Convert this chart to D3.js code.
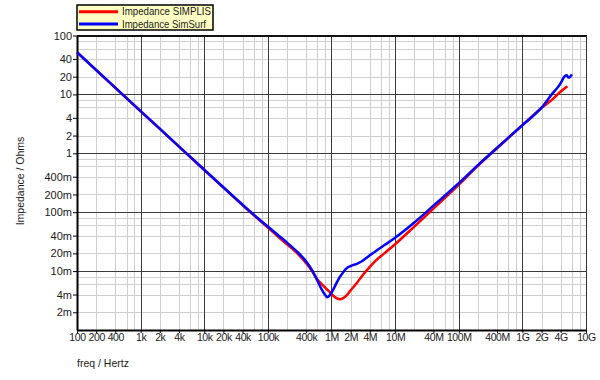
<!DOCTYPE html>
<html>
<head>
<meta charset="utf-8">
<script src="https://cdn.jsdelivr.net/npm/d3@7"></script>
<style>
  body { margin: 0; background: #fff; }
  svg text { font-family: "Liberation Sans", Arial, sans-serif; fill: #1a1a1a; }
</style>
</head>
<body>
<div id="chart"></div>
<script>
// series names
const seriesNames = ["Impedance SIMPLIS", "Impedance SimSurf"];

// SIMPLIS curve (Hz, Ohms)
const freqSimplis = [100, 200, 500, 1e3, 2e3, 5e3, 1e4, 2e4, 5e4, 1e5, 1.5e5, 2e5, 3e5, 4e5,
  5e5, 6e5, 7e5, 8e5, 9e5, 1e6, 1.1e6, 1.2e6, 1.3e6, 1.4e6, 1.5e6, 1.7e6, 2e6, 2.5e6, 3e6,
  4e6, 5e6, 7e6, 1e7, 2e7, 4e7, 1e8, 2e8, 4e8, 1e9, 2e9, 3e9, 4e9, 5.1e9];
const zSimplis = [51.6, 25.8, 10.3, 5.17, 2.6, 1.04, 0.52, 0.262, 0.106, 0.055, 0.037, 0.0285,
  0.0192, 0.0136, 0.0098, 0.0072, 0.006, 0.0052, 0.0046, 0.0041, 0.0037, 0.00347, 0.00335,
  0.00333, 0.00345, 0.0038, 0.0047, 0.0063, 0.0082, 0.0118, 0.0152, 0.0206, 0.0286, 0.057,
  0.115, 0.292, 0.61, 1.22, 3.0, 5.9, 8.3, 11.2, 13.8];

// SimSurf curve (Hz, Ohms)
const freqSimsurf = [100, 200, 500, 1e3, 2e3, 5e3, 1e4, 2e4, 5e4, 1e5, 1.5e5, 2e5, 3e5, 4e5,
  5e5, 6e5, 7e5, 8e5, 8.5e5, 9e5, 1e6, 1.1e6, 1.2e6, 1.3e6, 1.4e6, 1.5e6, 1.7e6, 2e6, 2.5e6,
  3e6, 4e6, 5e6, 7e6, 1e7, 2e7, 4e7, 1e8, 2e8, 4e8, 1e9, 2e9, 3e9, 3.5e9, 4e9, 4.4e9, 4.7e9,
  5e9, 5.3e9, 5.6e9, 6e9];
const zSimsurf = [52, 26, 10.4, 5.2, 2.62, 1.05, 0.525, 0.265, 0.108, 0.057, 0.0395, 0.0305,
  0.0205, 0.0146, 0.0102, 0.0069, 0.0049, 0.0039, 0.0036, 0.0037, 0.0043, 0.0052, 0.0063,
  0.0074, 0.0084, 0.0093, 0.011, 0.0122, 0.0133, 0.0147, 0.0185, 0.022, 0.0282, 0.0368,
  0.0667, 0.129, 0.31, 0.63, 1.24, 3.0, 5.95, 10.5, 12.7, 15.5, 18.8, 20.7, 21.1, 19.3,
  19.8, 21.9];

// axis ticks
const xTickValues = [100, 200, 400, 1e3, 2e3, 4e3, 1e4, 2e4, 4e4, 1e5, 4e5, 1e6, 2e6, 4e6,
  1e7, 4e7, 1e8, 4e8, 1e9, 2e9, 4e9, 1e10];
const xTickLabels = ["100", "200", "400", "1k", "2k", "4k", "10k", "20k", "40k", "100k",
  "400k", "1M", "2M", "4M", "10M", "40M", "100M", "400M", "1G", "2G", "4G", "10G"];
const yTickValues = [100, 40, 20, 10, 4, 2, 1, 0.4, 0.2, 0.1, 0.04, 0.02, 0.01, 0.004, 0.002];
const yTickLabels = ["100", "40", "20", "10", "4", "2", "1", "400m", "200m", "100m", "40m",
  "20m", "10m", "4m", "2m"];

const width = 600, height = 380;
const plot = { left: 77, right: 586, top: 35.5, bottom: 330 };

const svg = d3.select("#chart").append("svg")
  .attr("width", width)
  .attr("height", height);

const x = d3.scaleLog().domain([100, 1e10]).range([plot.left, plot.right]);
const y = d3.scaleLog().domain([1e-3, 100]).range([plot.bottom, plot.top]);

// grid: minor lines at 2,4,6,8 of each decade, major at decades
const xMinor = [], yMinor = [];
for (let e = 2; e < 10; e++) [2, 4, 6, 8].forEach(m => xMinor.push(m * Math.pow(10, e)));
for (let e = -3; e < 2; e++) [2, 4, 6, 8].forEach(m => yMinor.push(m * Math.pow(10, e)));
const xMajor = d3.range(3, 10).map(e => Math.pow(10, e));
const yMajor = d3.range(-2, 2).map(e => Math.pow(10, e));

const grid = svg.append("g").attr("shape-rendering", "crispEdges");
grid.selectAll("line.xminor").data(xMinor).join("line")
  .attr("x1", d => Math.round(x(d)) + 0.5).attr("x2", d => Math.round(x(d)) + 0.5)
  .attr("y1", plot.top).attr("y2", plot.bottom)
  .attr("stroke", "#cfcfcf");
grid.selectAll("line.yminor").data(yMinor).join("line")
  .attr("y1", d => Math.round(y(d)) + 0.5).attr("y2", d => Math.round(y(d)) + 0.5)
  .attr("x1", plot.left).attr("x2", plot.right)
  .attr("stroke", "#cfcfcf");
grid.selectAll("line.xmajor").data(xMajor).join("line")
  .attr("x1", d => Math.round(x(d)) + 0.5).attr("x2", d => Math.round(x(d)) + 0.5)
  .attr("y1", plot.top).attr("y2", plot.bottom)
  .attr("stroke", "#3c3c3c");
grid.selectAll("line.ymajor").data(yMajor).join("line")
  .attr("y1", d => Math.round(y(d)) + 0.5).attr("y2", d => Math.round(y(d)) + 0.5)
  .attr("x1", plot.left).attr("x2", plot.right)
  .attr("stroke", "#3c3c3c");

// frame top and right
grid.append("line")
  .attr("x1", plot.left).attr("x2", plot.right + 1)
  .attr("y1", plot.top).attr("y2", plot.top)
  .attr("stroke", "#111").attr("stroke-width", 2);
grid.append("line")
  .attr("x1", plot.right + 0.5).attr("x2", plot.right + 0.5)
  .attr("y1", plot.top).attr("y2", plot.bottom)
  .attr("stroke", "#333");

// axes
const xAxis = d3.axisBottom(x)
  .tickValues(xTickValues)
  .tickFormat((d, i) => xTickLabels[i])
  .tickSizeOuter(0).tickSizeInner(3).tickPadding(0);
const yAxis = d3.axisLeft(y)
  .tickValues(yTickValues)
  .tickFormat((d, i) => yTickLabels[i])
  .tickSizeOuter(0).tickSizeInner(4).tickPadding(1);

const gx = svg.append("g")
  .attr("transform", `translate(0,${plot.bottom})`)
  .call(xAxis);
gx.select(".domain").attr("stroke", "#000").attr("stroke-width", 2);
gx.selectAll(".tick line").attr("stroke", "#000");
gx.selectAll(".tick text")
  .attr("font-size", 10.5)
  .attr("letter-spacing", "-0.4px")
  .attr("dy", "0.8em")
  .attr("fill", "#1a1a1a");

const gy = svg.append("g")
  .attr("transform", `translate(${plot.left},0)`)
  .call(yAxis);
gy.select(".domain").attr("stroke", "#000").attr("stroke-width", 2);
gy.selectAll(".tick line").attr("stroke", "#000");
gy.selectAll(".tick text").attr("font-size", 11).attr("fill", "#1a1a1a");
svg.selectAll(".tick text").attr("font-family", "'Liberation Sans', Arial, sans-serif");

// axis titles
svg.append("text")
  .attr("transform", "translate(24,181) rotate(-90)")
  .attr("text-anchor", "middle")
  .attr("font-size", 10.5)
  .text("Impedance / Ohms");
svg.append("text")
  .attr("x", 77).attr("y", 367)
  .attr("font-size", 10.5)
  .text("freq / Hertz");

// curves
const line = d3.line()
  .x(d => x(d[0]))
  .y(d => y(d[1]))
  .curve(d3.curveMonotoneX);

const series = [
  { name: seriesNames[0], color: "#ff0000", pts: d3.zip(freqSimplis, zSimplis) },
  { name: seriesNames[1], color: "#0000ff", pts: d3.zip(freqSimsurf, zSimsurf) }
];

svg.append("g").selectAll("path.curve")
  .data(series)
  .join("path")
  .attr("class", "curve")
  .attr("d", d => line(d.pts))
  .attr("fill", "none")
  .attr("stroke", d => d.color)
  .attr("stroke-width", 2.5)
  .attr("stroke-linejoin", "round");

// legend
const legend = svg.append("g");
legend.append("rect")
  .attr("x", 77).attr("y", 5)
  .attr("width", 136).attr("height", 25)
  .attr("fill", "#ffffc4")
  .attr("stroke", "#000").attr("stroke-width", 1.5);
const rows = legend.selectAll("g.row")
  .data(series)
  .join("g")
  .attr("class", "row")
  .attr("transform", (d, i) => `translate(0,${11.7 + i * 12.3})`);
rows.append("line")
  .attr("x1", 79).attr("x2", 118)
  .attr("stroke", d => d.color)
  .attr("stroke-width", 3);
rows.append("text")
  .attr("x", 122)
  .attr("dy", "0.35em")
  .attr("font-size", 10.5)
  .attr("textLength", (d, i) => i === 0 ? 89 : 84)
  .attr("lengthAdjust", "spacingAndGlyphs")
  .text(d => d.name);
</script>
</body>
</html>
